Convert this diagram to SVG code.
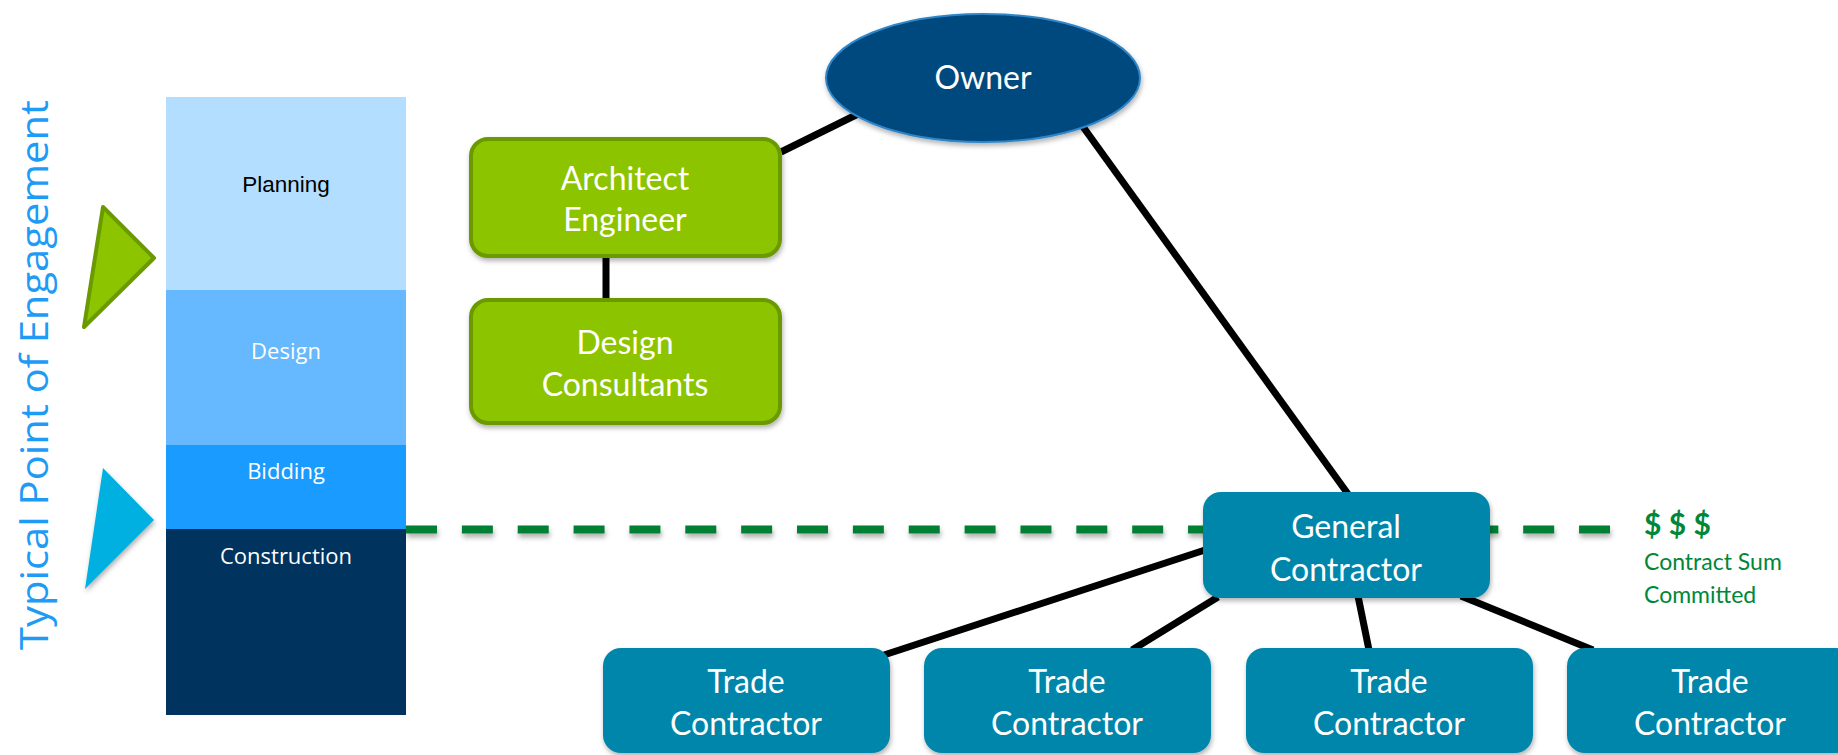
<svg xmlns="http://www.w3.org/2000/svg" width="1838" height="755" viewBox="0 0 1838 755">
<defs>
<filter id="sh" x="-10%" y="-10%" width="130%" height="140%">
<feDropShadow dx="1" dy="3" stdDeviation="2.5" flood-color="#000" flood-opacity="0.3"/>
</filter>
<filter id="dsh" filterUnits="userSpaceOnUse" x="390" y="510" width="1240" height="40">
<feDropShadow dx="1" dy="4" stdDeviation="2.5" flood-color="#000" flood-opacity="0.3"/>
</filter>
<style>
.node text{font-family:Lato,"Open Sans",sans-serif;font-size:32px;fill:#fff;text-anchor:middle}
.green rect{fill:#8DC400;stroke:#6A9A00;stroke-width:4}
.teal rect{fill:#0086AA}
.phase{font-family:"Open Sans",sans-serif;font-size:22px;fill:#fff;text-anchor:middle}
.conn line{stroke:#000;stroke-width:7}
.money{font-family:Lato,"Open Sans",sans-serif;fill:#00873A}
</style>
</defs>
<rect width="1838" height="755" fill="#fff"/>

<g id="title">
<text transform="translate(48,375) rotate(-90)" font-family="'Open Sans',sans-serif" font-size="39" fill="#1F9BF5" text-anchor="middle" textLength="550" lengthAdjust="spacingAndGlyphs">Typical Point of Engagement</text>
</g>

<g id="triangles">
<polygon points="103,207 154,258 84,327" fill="#8DC400" stroke="#6A9A00" stroke-width="4" stroke-linejoin="round"/>
<polygon points="103,468 154,520 85,589" fill="#00B0E0" filter="url(#sh)"/>
</g>

<g id="phases">
<rect x="166" y="97" width="240" height="193" fill="#B3DEFF"/>
<rect x="166" y="290" width="240" height="155" fill="#66B8FF"/>
<rect x="166" y="445" width="240" height="84" fill="#1A9BFF"/>
<rect x="166" y="529" width="240" height="186" fill="#00335E"/>
<text x="286" y="192" font-family="'Liberation Sans',Arial,sans-serif" font-size="22.5" fill="#000" text-anchor="middle">Planning</text>
<text class="phase" x="286" y="359">Design</text>
<text class="phase" x="286" y="479">Bidding</text>
<text class="phase" x="286" y="564">Construction</text>
</g>

<g id="dashed">
<line x1="406" y1="529.5" x2="1610" y2="529.5" stroke="#008033" stroke-width="8" stroke-dasharray="31 24.86" filter="url(#dsh)"/>
</g>

<g class="conn" id="connectors">
<line x1="781" y1="152" x2="860" y2="113"/>
<line x1="606" y1="256" x2="606" y2="300"/>
<line x1="1081" y1="124" x2="1348" y2="494"/>
<line x1="1205" y1="550" x2="884" y2="655"/>
<line x1="1218" y1="597" x2="1132" y2="650"/>
<line x1="1358" y1="596" x2="1369" y2="650"/>
<line x1="1461" y1="596" x2="1593" y2="650"/>
</g>

<g class="node" id="owner">
<ellipse cx="983" cy="78" rx="157" ry="64" fill="#03487F" stroke="#2E86C8" stroke-width="2" filter="url(#sh)"/>
<text x="983" y="89">Owner</text>
</g>

<g class="node green" id="architect">
<rect x="471" y="139" width="309" height="117" rx="17" filter="url(#sh)"/>
<text x="625" y="190">Architect</text>
<text x="625" y="231">Engineer</text>
</g>

<g class="node green" id="consultants">
<rect x="471" y="300" width="309" height="123" rx="17" filter="url(#sh)"/>
<text x="625" y="354">Design</text>
<text x="625" y="396">Consultants</text>
</g>

<g class="node teal" id="general">
<rect x="1203" y="492" width="287" height="106" rx="18" filter="url(#sh)"/>
<text x="1346" y="538">General</text>
<text x="1346" y="581">Contractor</text>
</g>

<g class="node teal" id="trade1">
<rect x="603" y="648" width="287" height="105" rx="18" filter="url(#sh)"/>
<text x="746" y="693">Trade</text>
<text x="746" y="735">Contractor</text>
</g>
<g class="node teal" id="trade2">
<rect x="924" y="648" width="287" height="105" rx="18" filter="url(#sh)"/>
<text x="1067" y="693">Trade</text>
<text x="1067" y="735">Contractor</text>
</g>
<g class="node teal" id="trade3">
<rect x="1246" y="648" width="287" height="105" rx="18" filter="url(#sh)"/>
<text x="1389" y="693">Trade</text>
<text x="1389" y="735">Contractor</text>
</g>
<g class="node teal" id="trade4">
<rect x="1567" y="648" width="287" height="105" rx="18" filter="url(#sh)"/>
<text x="1710" y="693">Trade</text>
<text x="1710" y="735">Contractor</text>
</g>

<g id="money">
<text class="money" x="1644" y="535" font-size="30" font-weight="bold">$ $ $</text>
<text class="money" x="1644" y="570" font-size="23">Contract Sum</text>
<text class="money" x="1644" y="603" font-size="23">Committed</text>
</g>
</svg>
